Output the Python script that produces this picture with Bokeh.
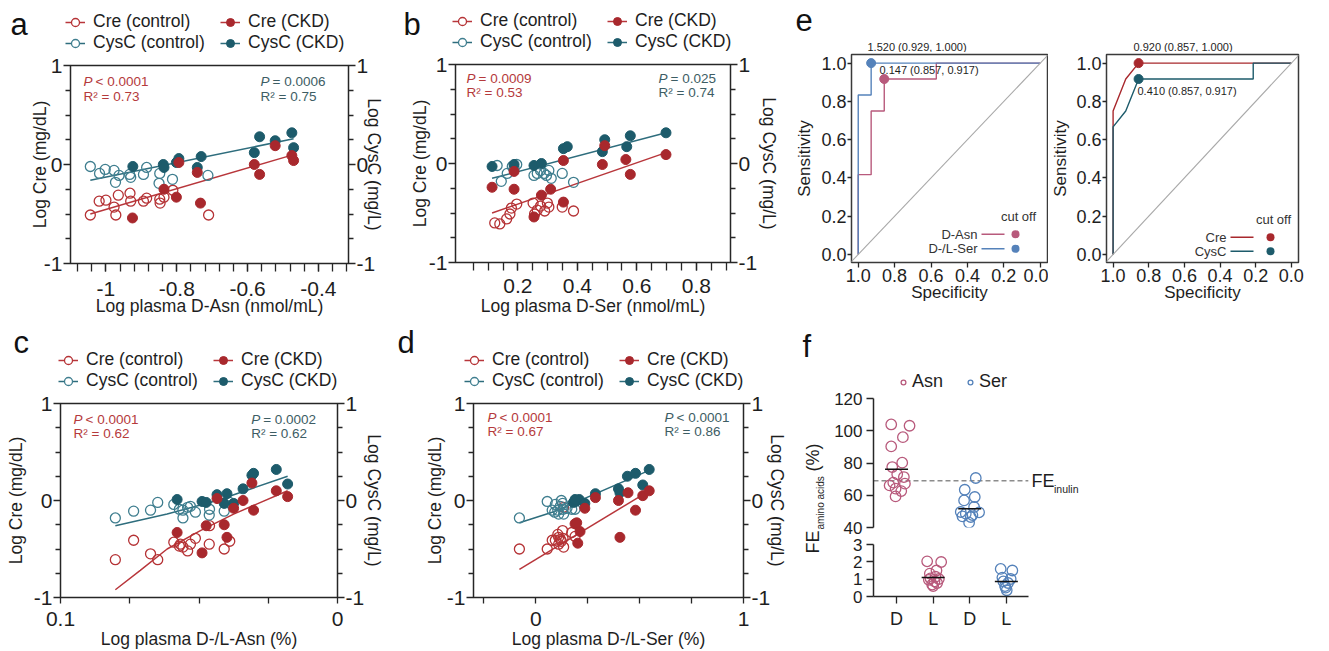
import numpy as np
from bokeh.plotting import figure
from bokeh.models import (Range1d, FixedTicker, LinearAxis, Legend, LegendItem,
                          Label, BoxAnnotation, Slope, PrintfTickFormatter)
from bokeh.layouts import row, column
from bokeh.embed import file_html
from bokeh.resources import INLINE

FONT = "Liberation Sans"
RED = "#a8282d"; RED_OPEN = "#b53235"; RED_LINE = "#b8363b"; RED_TXT = "#b53a3c"
TEAL = "#1d5b6b"; TEAL_OPEN = "#3f7e8f"; TEAL_LINE = "#2e6d7d"; TEAL_TXT = "#3d5d64"
PINK = "#b85a7c"; BLUE = "#5582ba"
AX = "#262626"

# ---------------- panel a : Log plasma D-Asn (nmol/mL) ----------------
a_cre_ctrl_x = [-1.044, -1.019, -1.000, -0.977, -0.972, -0.965, -0.932, -0.930, -0.894, -0.885, -0.848, -0.847, -0.836, -0.811, -0.710]
a_cre_ctrl_y = [-0.51, -0.37, -0.36, -0.43, -0.51, -0.31, -0.29, -0.37, -0.37, -0.34, -0.35, -0.39, -0.33, -0.26, -0.51]
a_cre_ckd_x = [-0.925, -0.836, -0.801, -0.794, -0.742, -0.733, -0.581, -0.566, -0.522, -0.475, -0.470]
a_cre_ckd_y = [-0.54, -0.25, -0.33, 0.02, -0.08, -0.39, 0.00, -0.10, 0.19, 0.09, 0.04]
a_cys_ctrl_x = [-1.044, -1.018, -1.002, -0.977, -0.973, -0.963, -0.933, -0.930, -0.894, -0.885, -0.848, -0.850, -0.812, -0.712]
a_cys_ctrl_y = [-0.02, -0.09, -0.05, -0.06, -0.18, -0.11, -0.10, -0.13, -0.10, -0.03, -0.09, -0.19, -0.15, -0.11]
a_cys_ckd_x = [-0.924, -0.838, -0.836, -0.801, -0.794, -0.742, -0.731, -0.581, -0.566, -0.522, -0.475, -0.470]
a_cys_ckd_y = [-0.02, 0.00, -0.03, 0.02, 0.06, -0.03, 0.08, 0.12, 0.28, 0.24, 0.32, 0.17]
a_fit_x = [-1.044, -0.470]
a_fit_cre = [-0.50, 0.10]
a_fit_cys = [-0.16, 0.26]
a_stats = [("<", "0.0001", "0.73"), ("=", "0.0006", "0.75")]

# ---------------- panel b : Log plasma D-Ser (nmol/mL) ----------------
b_cre_ctrl_x = [0.122, 0.139, 0.162, 0.173, 0.178, 0.196, 0.251, 0.265, 0.276, 0.290, 0.299, 0.304, 0.349, 0.387, 0.256]
b_cre_ctrl_y = [-0.60, -0.61, -0.56, -0.51, -0.45, -0.41, -0.40, -0.47, -0.43, -0.48, -0.40, -0.44, -0.44, -0.48, -0.51]
b_cre_ckd_x = [0.113, 0.187, 0.187, 0.254, 0.279, 0.310, 0.353, 0.353, 0.484, 0.492, 0.563, 0.578, 0.698]
b_cre_ckd_y = [-0.24, -0.26, -0.08, -0.54, -0.32, -0.26, -0.39, 0.03, -0.01, 0.18, 0.04, -0.11, 0.09]
b_cys_ctrl_x = [0.130, 0.144, 0.164, 0.181, 0.196, 0.254, 0.265, 0.276, 0.288, 0.296, 0.304, 0.312, 0.349, 0.387, 0.187]
b_cys_ctrl_y = [-0.02, -0.18, -0.10, -0.03, -0.01, -0.12, -0.10, -0.07, -0.10, -0.12, -0.07, -0.15, -0.10, -0.19, -0.05]
b_cys_ckd_x = [0.113, 0.187, 0.254, 0.279, 0.353, 0.366, 0.492, 0.484, 0.578, 0.566, 0.698]
b_cys_ckd_y = [-0.03, -0.01, -0.02, 0.00, 0.15, 0.17, 0.24, 0.12, 0.28, 0.17, 0.31]
b_fit_x = [0.113, 0.698]
b_fit_cre = [-0.50, 0.11]
b_fit_cys = [-0.15, 0.31]
b_stats = [("=", "0.0009", "0.53"), ("=", "0.025", "0.74")]

# ---------------- panel c : Log plasma D-/L-Asn (%) ----------------
c_cre_ctrl_x = [0.198, 0.264, 0.325, 0.351, 0.409, 0.429, 0.442, 0.459, 0.469, 0.487, 0.538, 0.537, 0.591, 0.611, 0.433]
c_cre_ctrl_y = [-0.61, -0.41, -0.55, -0.61, -0.43, -0.47, -0.48, -0.52, -0.45, -0.39, -0.26, -0.45, -0.50, -0.42, -0.45]
c_cre_ckd_x = [0.421, 0.511, 0.526, 0.565, 0.591, 0.601, 0.625, 0.659, 0.697, 0.691, 0.779, 0.820]
c_cre_ckd_y = [-0.33, -0.54, -0.26, 0.02, -0.25, -0.38, -0.08, 0.00, -0.10, 0.18, 0.10, 0.04]
c_cys_ctrl_x = [0.198, 0.264, 0.325, 0.351, 0.409, 0.429, 0.442, 0.442, 0.459, 0.469, 0.487, 0.538, 0.537, 0.591, 0.611]
c_cys_ctrl_y = [-0.18, -0.11, -0.10, -0.02, -0.04, -0.09, -0.10, -0.18, -0.07, -0.06, -0.12, -0.09, -0.15, -0.11, -0.02]
c_cys_ckd_x = [0.421, 0.511, 0.526, 0.565, 0.591, 0.601, 0.625, 0.659, 0.691, 0.697, 0.779, 0.820]
c_cys_ckd_y = [0.01, -0.01, -0.02, 0.06, -0.03, 0.07, -0.03, 0.12, 0.26, 0.28, 0.32, 0.17]
c_fit_cre_x = [0.198, 0.288, 0.385, 0.505, 0.625, 0.820]
c_fit_cre_y = [-0.92, -0.72, -0.50, -0.31, -0.14, 0.10]
c_fit_cys_x = [0.198, 0.385, 0.565, 0.820]
c_fit_cys_y = [-0.26, -0.14, 0.00, 0.25]
c_stats = [("<", "0.0001", "0.62"), ("=", "0.0002", "0.62")]

# ---------------- panel d : Log plasma D-/L-Ser (%) ----------------
d_cre_ctrl_x = [-0.079, 0.055, 0.079, 0.094, 0.106, 0.110, 0.118, 0.129, 0.131, 0.134, 0.173, 0.189, 0.110, 0.123, 0.134]
d_cre_ctrl_y = [-0.50, -0.50, -0.41, -0.41, -0.35, -0.45, -0.40, -0.31, -0.39, -0.07, -0.33, -0.37, -0.38, -0.42, -0.48]
d_cre_ckd_x = [0.189, 0.197, 0.202, 0.213, 0.236, 0.287, 0.398, 0.405, 0.444, 0.480, 0.515, 0.546]
d_cre_ckd_y = [-0.24, -0.23, -0.44, -0.32, -0.08, 0.03, 0.00, -0.38, 0.08, -0.10, 0.05, 0.10]
d_cys_ctrl_x = [-0.079, 0.055, 0.079, 0.094, 0.106, 0.118, 0.123, 0.129, 0.131, 0.134, 0.150, 0.173, 0.189, 0.110, 0.091]
d_cys_ctrl_y = [-0.18, -0.01, -0.10, -0.04, -0.10, -0.06, 0.00, -0.03, -0.09, -0.14, -0.08, -0.09, -0.09, -0.14, -0.12]
d_cys_ckd_x = [0.181, 0.192, 0.209, 0.236, 0.287, 0.398, 0.405, 0.441, 0.480, 0.515, 0.546, 0.189]
d_cys_ckd_y = [-0.02, -0.01, 0.01, -0.03, 0.07, 0.12, 0.08, 0.25, 0.28, 0.16, 0.32, 0.01]
d_fit_cre_x = [-0.079, 0.546]
d_fit_cre_y = [-0.71, 0.10]
d_fit_cys_x = [-0.079, 0.094, 0.546]
d_fit_cys_y = [-0.23, -0.11, 0.31]
d_stats = [("<", "0.0001", "0.67"), ("<", "0.0001", "0.86")]

# ---------------- panel e : ROC curves ----------------
e1_asn_spec = [1.0, 1.0, 0.929, 0.929, 0.857, 0.857, 0.571, 0.571, 0.0]
e1_asn_sens = [0.0, 0.417, 0.417, 0.75, 0.75, 0.917, 0.917, 1.0, 1.0]
e1_ser_spec = [1.0, 1.0, 0.929, 0.929, 0.0]
e1_ser_sens = [0.0, 0.833, 0.833, 1.0, 1.0]
e1_asn_cut = (0.147, 0.857, 0.917)
e1_ser_cut = (1.520, 0.929, 1.000)
e2_cre_spec = [1.0, 1.0, 0.929, 0.857, 0.0]
e2_cre_sens = [0.0, 0.75, 0.917, 1.0, 1.0]
e2_cys_spec = [1.0, 1.0, 0.929, 0.857, 0.214, 0.214, 0.0]
e2_cys_sens = [0.0, 0.667, 0.75, 0.917, 0.917, 1.0, 1.0]
e2_cre_cut = (0.920, 0.857, 1.000)
e2_cys_cut = (0.410, 0.857, 0.917)
roc_ticks = [0.0, 0.2, 0.4, 0.6, 0.8, 1.0]

# ---------------- panel f : fractional excretion ----------------
f_groups = ["D", "L", "D", "L"]
f_asn_d = [103.9, 103.1, 96.0, 90.3, 80.2, 77.5, 66.1, 59.3, 67.2, 67.8, 62.6, 73.0, 64.1, 71.3]
f_asn_d_jit = [-0.146, 0.355, 0.173, -0.146, 0.155, -0.118, -0.19, -0.027, 0.228, -0.09, 0.128, 0.018, -0.027, 0.2]
f_ser_d = [70.7, 63.4, 58.9, 56.8, 52.7, 49.6, 48.6, 46.5, 46.9, 49.4, 43.0, 47.7]
f_ser_d_jit = [0.164, -0.137, 0.137, -0.155, 0.118, -0.246, -0.109, 0.027, -0.2, 0.255, -0.018, 0.073]
f_asn_l = [2.03, 1.99, 1.50, 1.05, 0.87, 0.78, 0.69, 1.14, 1.32, 0.96, 1.01, 0.60]
f_asn_l_jit = [-0.164, 0.219, 0.091, -0.073, 0.036, 0.109, -0.027, 0.064, -0.091, -0.118, 0.155, 0.0]
f_ser_l = [1.59, 1.50, 1.09, 1.01, 0.60, 0.36, 0.78, 0.87, 0.51]
f_ser_l_jit = [-0.155, 0.164, -0.109, 0.118, -0.036, 0.01, 0.046, -0.082, -0.018]
f_means = [76.2, 1.09, 51.7, 0.87]
f_inulin = 69.0
f_upper_ticks = [40, 60, 80, 100, 120]
f_lower_ticks = [0, 1, 2, 3]

Y_MAJOR = [-1, 0, 1]
Y_MINOR = [-0.75, -0.5, -0.25, 0.25, 0.5, 0.75]
Y_LABELS = {-1: "-1", 0: "0", 1: "1"}
NOPOS = [float("nan")]   # legend-only renderers draw nothing in the plot


def lab(p, text, x, y, size, color=AX, align="left", baseline="middle", style="normal",
        angle=0.0, units="screen"):
    p.add_layout(Label(x=x, y=y, x_units=units, y_units=units, text=text,
                       text_font=FONT, text_font_size=f"{size}px", text_color=color,
                       text_align=align, text_baseline=baseline, text_font_style=style,
                       angle=angle))


def style_axis(ax, tick_size, lab_size, tick_out, minor_out, lstand, astand, line=False):
    ax.axis_line_color = AX if line else None
    ax.axis_line_width = 1.5
    ax.major_tick_line_color = AX
    ax.major_tick_line_width = 1.3
    ax.minor_tick_line_color = AX
    ax.minor_tick_line_width = 1.3
    ax.major_tick_in = 0
    ax.major_tick_out = tick_out
    ax.minor_tick_in = 0
    ax.minor_tick_out = minor_out
    ax.major_label_text_font = FONT
    ax.major_label_text_font_size = f"{tick_size}px"
    ax.major_label_text_color = "#1e1e1e"
    ax.axis_label_text_font = FONT
    ax.axis_label_text_font_size = f"{lab_size}px"
    ax.axis_label_text_font_style = "normal"
    ax.axis_label_text_color = "#1e1e1e"
    ax.major_label_standoff = lstand
    ax.axis_label_standoff = astand


def make_fig(w, h, ml, fw, mt, fh, xr, yr):
    p = figure(width=w, height=h, x_range=Range1d(*xr), y_range=Range1d(*yr),
               output_backend="svg", toolbar_location=None, frame_align=False,
               min_border_left=ml, min_border_right=w - ml - fw,
               min_border_top=mt, min_border_bottom=h - mt - fh)
    p.xgrid.visible = False
    p.ygrid.visible = False
    p.border_fill_color = "white"
    p.background_fill_color = "white"
    return p


def header(x0, x1, y0, y1):
    """A plain strip whose data coordinates are page pixels (y downwards)."""
    p = figure(width=x1 - x0, height=y1 - y0, x_range=Range1d(x0, x1), y_range=Range1d(y1, y0),
               output_backend="svg", toolbar_location=None, frame_align=False,
               x_axis_location=None, y_axis_location=None,
               min_border_left=0, min_border_right=0, min_border_top=0, min_border_bottom=0)
    p.outline_line_color = None
    p.grid.visible = False
    p.border_fill_color = "white"
    p.background_fill_color = "white"
    return p


def letter(p, text, x, baseline_y):
    lab(p, text, x, baseline_y - 11, 31, "#111111", units="data")


def scatter_legend(hp, loc):
    l_cre = hp.line(NOPOS, NOPOS, line_color=RED_LINE, line_width=1.5)
    l_cys = hp.line(NOPOS, NOPOS, line_color=TEAL_LINE, line_width=1.5)
    s_cc = hp.scatter(NOPOS, NOPOS, marker="circle", size=10, fill_color="white", line_color=RED_OPEN, line_width=1.3)
    s_tc = hp.scatter(NOPOS, NOPOS, marker="circle", size=10, fill_color="white", line_color=TEAL_OPEN, line_width=1.3)
    s_ck = hp.scatter(NOPOS, NOPOS, marker="circle", size=10, fill_color=RED, line_color=RED)
    s_tk = hp.scatter(NOPOS, NOPOS, marker="circle", size=10, fill_color=TEAL, line_color=TEAL)
    items = [LegendItem(label="Cre (control)", renderers=[l_cre, s_cc]),
             LegendItem(label="CysC (control)", renderers=[l_cys, s_tc]),
             LegendItem(label="Cre (CKD)", renderers=[l_cre, s_ck]),
             LegendItem(label="CysC (CKD)", renderers=[l_cys, s_tk])]
    leg = Legend(items=items, location=loc, orientation="vertical", ncols=2,
                 glyph_width=20, glyph_height=20, label_standoff=8, spacing=0,
                 padding=0, margin=0, label_width=127, label_height=20,
                 label_text_font=FONT, label_text_font_size="17.5px",
                 label_text_color="#1e1e1e",
                 border_line_color=None, background_fill_alpha=0)
    hp.add_layout(leg, "center")


def scatter_panel(cfg, data):
    fw, fh = cfg["fw"], cfg["fh"]
    p = make_fig(cfg["w"], cfg["h"], cfg["ml"], fw, cfg["mt"], fh, cfg["xr"], (-1, 1))
    p.outline_line_color = AX
    p.outline_line_width = 1.5
    xa = p.xaxis[0]
    xa.ticker = FixedTicker(ticks=cfg["xticks"], minor_ticks=cfg["xminor"])
    xa.major_label_overrides = cfg["xlabels"]
    xa.axis_label = cfg["xlabel"]
    style_axis(xa, 21, 17.5, cfg["xtick"], cfg["xtick"], cfg["xls"], cfg["xas"])
    ya = p.yaxis[0]
    ya.ticker = FixedTicker(ticks=Y_MAJOR, minor_ticks=Y_MINOR)
    ya.major_label_overrides = Y_LABELS
    ya.axis_label = "Log Cre (mg/dL)"
    style_axis(ya, 21, 17.5, 7, 5, 1, cfg["las"])
    ra = LinearAxis(axis_label="Log CysC (mg/L)",
                    ticker=FixedTicker(ticks=Y_MAJOR, minor_ticks=Y_MINOR),
                    major_label_overrides=Y_LABELS)
    style_axis(ra, 21, 17.5, 7, 5, 1, cfg["ras"])
    p.add_layout(ra, "right")

    (cx, cy), (kx, ky), (tx, ty), (ux, uy), (fcx, fcy), (ftx, fty) = data
    p.line(fcx, fcy, line_color=RED_LINE, line_width=1.5)
    p.line(ftx, fty, line_color=TEAL_LINE, line_width=1.5)
    p.scatter(cx, cy, marker="circle", size=10, fill_color=None, line_color=RED_OPEN, line_width=1.3)
    p.scatter(tx, ty, marker="circle", size=10, fill_color=None, line_color=TEAL_OPEN, line_width=1.3)
    p.scatter(ux, uy, marker="circle", size=10, fill_color=TEAL, line_color=TEAL, line_width=1)
    p.scatter(kx, ky, marker="circle", size=10, fill_color=RED, line_color=RED, line_width=1)

    (lop, lp, lr), (rop, rp, rr) = cfg["stats"]
    sx_l, sx_r = cfg["sx"]
    dy1, dy2 = cfg["sdy"]
    for sx, op, pv, r2, col in [(sx_l, lop, lp, lr, RED_TXT), (sx_r, rop, rp, rr, TEAL_TXT)]:
        lab(p, "P", sx, fh - dy1, 13.5, col, style="italic")
        lab(p, f"{op} {pv}", sx + 12, fh - dy1, 13.5, col)
        lab(p, f"R² = {r2}", sx, fh - dy2, 13.5, col)
    return p


# ---------------- row 1 : a, b, e ----------------
hdr_a = header(0, 398, 0, 53)
letter(hdr_a, "a", 10, 35)
scatter_legend(hdr_a, (65, 0))
fig_a = scatter_panel(dict(
    w=398, h=267, ml=70, fw=278, mt=12, fh=198, xr=(-1.1, -0.315),
    xticks=[-1.0, -0.8, -0.6, -0.4],
    xminor=[round(v, 2) for v in np.arange(-1.08, -0.31, 0.04)],
    xlabels={-1.0: "-1", -0.8: "-0.8", -0.6: "-0.6", -0.4: "-0.4"},
    xlabel="Log plasma D-Asn (nmol/mL)", xtick=8, xls=10, xas=-3,
    las=-9, ras=-14, stats=a_stats, sx=(13, 190), sdy=(16, 31)),
    [(a_cre_ctrl_x, a_cre_ctrl_y), (a_cre_ckd_x, a_cre_ckd_y), (a_cys_ctrl_x, a_cys_ctrl_y),
     (a_cys_ckd_x, a_cys_ckd_y), (a_fit_x, a_fit_cre), (a_fit_x, a_fit_cys)])

hdr_b = header(398, 790, 0, 52)
letter(hdr_b, "b", 403, 35)
scatter_legend(hdr_b, (54, 0))
fig_b = scatter_panel(dict(
    w=392, h=268, ml=57, fw=275, mt=12, fh=198, xr=(-0.01, 0.915),
    xticks=[0.2, 0.4, 0.6, 0.8],
    xminor=[round(v, 2) for v in np.arange(0.05, 0.91, 0.05)],
    xlabels={0.2: "0.2", 0.4: "0.4", 0.6: "0.6", 0.8: "0.8"},
    xlabel="Log plasma D-Ser (nmol/mL)", xtick=8, xls=8, xas=0,
    las=-4, ras=-1, stats=b_stats, sx=(11, 203), sdy=(13.7, 27.7)),
    [(b_cre_ctrl_x, b_cre_ctrl_y), (b_cre_ckd_x, b_cre_ckd_y), (b_cys_ctrl_x, b_cys_ctrl_y),
     (b_cys_ckd_x, b_cys_ckd_y), (b_fit_x, b_fit_cre), (b_fit_x, b_fit_cys)])


def cut_text(cut):
    return f"{cut[0]:.3f} ({cut[1]:.3f}, {cut[2]:.3f})"


def roc_panel(w, ml, curves, cuts, inner_texts, legend, ylas):
    fw, fh = 196, 208
    p = make_fig(w, 268, ml, fw, 2, fh, (1.037, -0.04), (-0.042, 1.045))
    p.outline_line_color = "#3a3a3a"
    p.outline_line_width = 1.5
    for ax, name in [(p.xaxis[0], "Specificity"), (p.yaxis[0], "Sensitivity")]:
        ax.ticker = FixedTicker(ticks=roc_ticks)
        ax.formatter = PrintfTickFormatter(format="%.1f")
        ax.axis_label = name
    style_axis(p.xaxis[0], 18, 17, 5, 0, 1, -2)
    style_axis(p.yaxis[0], 18, 17, 4, 0, 1, ylas)
    p.add_layout(Slope(gradient=-1, y_intercept=1, line_color="#a8a8a8", line_width=1.1))
    for (xs, ys, col) in curves:
        p.line(xs, ys, line_color=col, line_width=1.4)
    for (cut, col) in cuts:
        p.scatter([cut[1]], [cut[2]], marker="circle", size=9, fill_color=col, line_color=col)
    for (cut, dx, y) in inner_texts:
        lab(p, cut_text(cut), dx, y, 11, "#1e1e1e")
    lab(p, "cut off", 167, legend[0], 13, "#333333", align="center")
    for (name, col, y, rx) in legend[1]:
        lab(p, name, rx, y, 13, "#333333", align="right")
        p.add_layout(BoxAnnotation(left=rx + 4, right=rx + 27, bottom=y - 0.7, top=y + 0.7,
                                   left_units="screen", right_units="screen",
                                   bottom_units="screen", top_units="screen",
                                   fill_color=col, fill_alpha=1, line_color=None))
        p.add_layout(BoxAnnotation(left=160, right=168, bottom=y - 4, top=y + 4,
                                   left_units="screen", right_units="screen",
                                   bottom_units="screen", top_units="screen",
                                   fill_color=col, fill_alpha=1, line_color=None,
                                   border_radius=4))
    return p


hdr_e1 = header(790, 1048, 0, 52)
letter(hdr_e1, "e", 795, 30)
lab(hdr_e1, cut_text(e1_ser_cut), 867, 46, 11, "#1e1e1e", units="data")
e1 = roc_panel(258, 61,
               [(e1_asn_spec, e1_asn_sens, PINK), (e1_ser_spec, e1_ser_sens, BLUE)],
               [(e1_asn_cut, PINK), (e1_ser_cut, BLUE)],
               [(e1_asn_cut, 28, 193)],
               (46, [("D-Asn", PINK, 28.3, 126), ("D-/L-Ser", BLUE, 13.7, 126)]), 4)

hdr_e2 = header(1048, 1329, 0, 52)
lab(hdr_e2, cut_text(e2_cre_cut), 1133, 46, 11, "#1e1e1e", units="data")
e2 = roc_panel(281, 54,
               [(e2_cre_spec, e2_cre_sens, RED), (e2_cys_spec, e2_cys_sens, TEAL)],
               [(e2_cre_cut, RED), (e2_cys_cut, TEAL)],
               [(e2_cys_cut, 31, 171.3)],
               (43, [("Cre", RED, 25.3, 120), ("CysC", TEAL, 11.3, 120)]), 3)

# ---------------- row 2 : c, d, f ----------------
hdr_c = header(0, 392, 320, 391)
letter(hdr_c, "c", 13, 353)
scatter_legend(hdr_c, (58, 0))
fig_c = scatter_panel(dict(
    w=392, h=260, ml=60, fw=277, mt=12, fh=198, xr=(0, 1),
    xticks=[0.0, 0.25, 0.5, 0.75, 1.0], xminor=[],
    xlabels={0.0: "0.1", 0.25: "", 0.5: "", 0.75: "", 1.0: "0"},
    xlabel="Log plasma D-/L-Asn (%)", xtick=6, xls=8, xas=0,
    las=5, ras=-3, stats=c_stats, sx=(13, 190.7), sdy=(20, 34)),
    [(c_cre_ctrl_x, c_cre_ctrl_y), (c_cre_ckd_x, c_cre_ckd_y), (c_cys_ctrl_x, c_cys_ctrl_y),
     (c_cys_ckd_x, c_cys_ckd_y), (c_fit_cre_x, c_fit_cre_y), (c_fit_cys_x, c_fit_cys_y)])

hdr_d = header(392, 790, 320, 391)
letter(hdr_d, "d", 397, 353)
scatter_legend(hdr_d, (72, 0))
fig_d = scatter_panel(dict(
    w=398, h=260, ml=81, fw=275, mt=12, fh=198, xr=(-0.3, 1.0),
    xticks=[-0.25, 0.0, 0.25, 0.5, 0.75, 1.0], xminor=[],
    xlabels={-0.25: "", 0.0: "0", 0.25: "", 0.5: "", 0.75: "", 1.0: "1"},
    xlabel="Log plasma D-/L-Ser (%)", xtick=6, xls=8, xas=0,
    las=-1, ras=-6, stats=d_stats, sx=(14, 191), sdy=(17.7, 32)),
    [(d_cre_ctrl_x, d_cre_ctrl_y), (d_cre_ckd_x, d_cre_ckd_y), (d_cys_ctrl_x, d_cys_ctrl_y),
     (d_cys_ckd_x, d_cys_ckd_y), (d_fit_cre_x, d_fit_cre_y), (d_fit_cys_x, d_fit_cys_y)])

# panel f: upper (40-120) and lower (0-3) segments of a broken axis
f_pos = [1, 2, 3, 4]
F_AX = (0.37, 4.6)                      # drawn extent of the category axis
F_XR = (0.37, 0.37 + 456 / 36.6)        # frame also holds the FE(inulin) label
F_UPPER = (40, 120)

f_top = make_fig(499, 217, 43, 456, 2, 205, F_XR, (40, 120 + 76 / 1.6125))
f_top.outline_line_color = None
f_top.xaxis[0].visible = False
fya = f_top.yaxis[0]
fya.ticker = FixedTicker(ticks=f_upper_ticks)
fya.bounds = F_UPPER
style_axis(fya, 17, 17, 7, 0, 4, 0, line=True)
f_top.segment(x0=[F_AX[0]], x1=[F_AX[1]], y0=[f_inulin], y1=[f_inulin],
              line_color="#8c8c8c", line_width=1.3, line_dash="5 3")
s_asn = f_top.scatter([f_pos[0] + j for j in f_asn_d_jit], f_asn_d, marker="circle", size=10.5,
                      fill_color=None, line_color=PINK, line_width=1.3)
s_ser = f_top.scatter([f_pos[2] + j for j in f_ser_d_jit], f_ser_d, marker="circle", size=10.5,
                      fill_color=None, line_color=BLUE, line_width=1.3)
f_top.scatter([f_pos[0], f_pos[2]], [f_means[0], f_means[2]], marker="dash", size=23,
              line_color="#111111", line_width=1.5)
f_leg = Legend(items=[LegendItem(label="Asn", renderers=[s_asn]), LegendItem(label="Ser", renderers=[s_ser])],
               location=(24, 135), orientation="horizontal", glyph_width=12, glyph_height=20,
               label_standoff=3, spacing=21, padding=0, margin=0,
               label_text_font=FONT, label_text_font_size="18px", label_text_color="#1e1e1e",
               border_line_color=None, background_fill_alpha=0)
f_top.add_layout(f_leg, "center")
lab(f_top, "FE", 158, 47, 18, "#1e1e1e")
lab(f_top, "inulin", 180.5, 39, 10.5, "#1e1e1e")

f_bot = make_fig(499, 114, 43, 456, 7, 52, F_XR, (0, 3))
f_bot.outline_line_color = None
fxa = f_bot.xaxis[0]
fxa.ticker = FixedTicker(ticks=f_pos)
fxa.bounds = F_AX
fxa.major_label_overrides = {p_: g for p_, g in zip(f_pos, f_groups)}
style_axis(fxa, 18, 17, 7, 0, 5, 0, line=True)
fyb = f_bot.yaxis[0]
fyb.ticker = FixedTicker(ticks=f_lower_ticks)
style_axis(fyb, 17, 17, 7, 0, 4, 0, line=True)
f_bot.scatter([f_pos[1] + j for j in f_asn_l_jit], f_asn_l, marker="circle", size=10.5,
              fill_color=None, line_color=PINK, line_width=1.3)
f_bot.scatter([f_pos[3] + j for j in f_ser_l_jit], f_ser_l, marker="circle", size=10.5,
              fill_color=None, line_color=BLUE, line_width=1.3)
f_bot.scatter([f_pos[1], f_pos[3]], [f_means[1], f_means[3]], marker="dash", size=23,
              line_color="#111111", line_width=1.5)

f_lab = header(790, 830, 320, 651)
letter(f_lab, "f", 802, 357)
lab(f_lab, "FE", 812.5, 553, 18, "#1e1e1e", angle=np.pi / 2, units="data")
lab(f_lab, "amino acids", 820, 529, 10, "#1e1e1e", angle=np.pi / 2, units="data")
lab(f_lab, "(%)", 812.5, 471, 18, "#1e1e1e", angle=np.pi / 2, units="data")

layout = column(
    row(column(hdr_a, fig_a), column(hdr_b, fig_b), column(hdr_e1, e1), column(hdr_e2, e2)),
    row(column(hdr_c, fig_c), column(hdr_d, fig_d), f_lab, column(f_top, f_bot)))

open("out.html", "w").write(file_html(layout, INLINE))
